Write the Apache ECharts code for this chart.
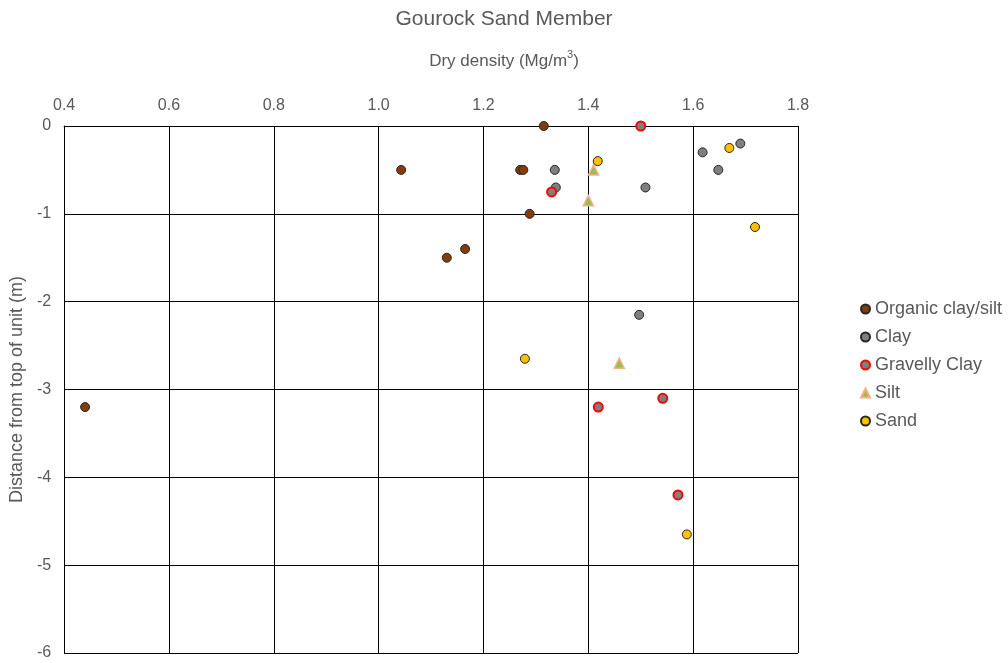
<!DOCTYPE html>
<html>
<head>
<meta charset="utf-8">
<script src="https://cdn.jsdelivr.net/npm/echarts@6/dist/echarts.min.js"></script>
<style>
  html, body { margin: 0; padding: 0; background: #fff; }
  #chart { width: 1008px; height: 663px; }
</style>
</head>
<body>
<div id="chart"></div>
<script>
// Dry density (Mg/m3) vs distance from top of unit (m), per lithology
const organicDensity = [1.315, 1.043, 1.27, 1.276, 1.288, 1.165, 1.13, 0.44];
const organicDepth   = [0, -0.5, -0.5, -0.5, -1.0, -1.4, -1.5, -3.2];

const clayDensity = [1.336, 1.338, 1.509, 1.618, 1.69, 1.648, 1.497];
const clayDepth   = [-0.5, -0.7, -0.7, -0.3, -0.2, -0.5, -2.15];

const gravellyDensity = [1.5, 1.33, 1.419, 1.542, 1.571];
const gravellyDepth   = [0, -0.75, -3.2, -3.1, -4.2];

const siltDensity = [1.41, 1.40, 1.459];
const siltDepth   = [-0.5, -0.85, -2.7];

const sandDensity = [1.418, 1.669, 1.718, 1.279, 1.588];
const sandDepth   = [-0.4, -0.25, -1.15, -2.65, -4.65];

const xTicks = [0.4, 0.6, 0.8, 1.0, 1.2, 1.4, 1.6, 1.8];
const yTicks = [0, -1, -2, -3, -4, -5, -6];

const pair = (xs, ys) => xs.map((x, i) => [x, ys[i]]);

const textColor = '#595959';
const font = 'Liberation Sans, Arial, sans-serif';

const chart = echarts.init(document.getElementById('chart'), null, { renderer: 'canvas' });

function scatter(name, xs, ys, symbol, size, fill, border, bw) {
  return {
    name, type: 'scatter', symbol, symbolSize: size,
    data: pair(xs, ys),
    itemStyle: { color: fill, borderColor: border, borderWidth: bw, opacity: 1 },
    emphasis: { disabled: true }
  };
}

chart.setOption({
  animation: false,
  backgroundColor: '#fff',
  title: [
    {
      text: 'Gourock Sand Member',
      left: 'center', top: 4,
      textStyle: { color: textColor, fontFamily: font, fontSize: 21, fontWeight: 'normal' }
    },
    {
      // horizontal axis caption, centred on the page above the tick labels
      text: 'Dry density (Mg/m{sup|3})',
      left: 'center', top: 44,
      textStyle: {
        color: textColor, fontFamily: font, fontSize: 17, fontWeight: 'normal',
        rich: {
          sup: { color: textColor, fontFamily: font, fontSize: 11, verticalAlign: 'top', lineHeight: 24 }
        }
      }
    }
  ],
  legend: {
    orient: 'vertical',
    left: 855, top: 295,
    itemWidth: 9, itemHeight: 9, itemGap: 10,
    textStyle: { color: textColor, fontFamily: font, fontSize: 18 },
    data: ['Organic clay/silt', 'Clay', 'Gravelly Clay', 'Silt', 'Sand']
  },
  grid: { left: 63, right: 210, top: 126, bottom: 10, containLabel: false },
  xAxis: {
    type: 'value', position: 'top',
    min: xTicks[0], max: xTicks[xTicks.length - 1], interval: 0.2,
    axisLine: { show: true, onZero: false, lineStyle: { color: '#000', width: 1 } },
    axisTick: { show: false },
    axisLabel: { color: textColor, fontFamily: font, fontSize: 16, margin: 12,
      formatter: v => v.toFixed(1) },
    splitLine: { show: true, lineStyle: { color: '#000', width: 1 } }
  },
  yAxis: {
    type: 'value',
    min: yTicks[yTicks.length - 1], max: yTicks[0], interval: 1,
    name: 'Distance from top of unit (m)', nameLocation: 'middle', nameGap: 35,
    nameTextStyle: { color: textColor, fontFamily: font, fontSize: 18 },
    axisLine: { show: true, onZero: false, lineStyle: { color: '#000', width: 1 } },
    axisTick: { show: false },
    axisLabel: { color: textColor, fontFamily: font, fontSize: 16, margin: 13 },
    splitLine: { show: true, lineStyle: { color: '#000', width: 1 } }
  },
  series: [
    scatter('Organic clay/silt', organicDensity, organicDepth, 'circle', 9, '#843C0C', '#262626', 1),
    scatter('Clay', clayDensity, clayDepth, 'circle', 9, '#7F7F7F', '#262626', 1),
    scatter('Gravelly Clay', gravellyDensity, gravellyDepth, 'circle', 9, '#7F7F7F', '#FF0000', 2),
    scatter('Silt', siltDensity, siltDepth, 'triangle', 10, '#9BBB59', '#F4B183', 1.5),
    scatter('Sand', sandDensity, sandDepth, 'circle', 9, '#FFC000', '#262626', 1)
  ]
});
</script>
</body>
</html>
